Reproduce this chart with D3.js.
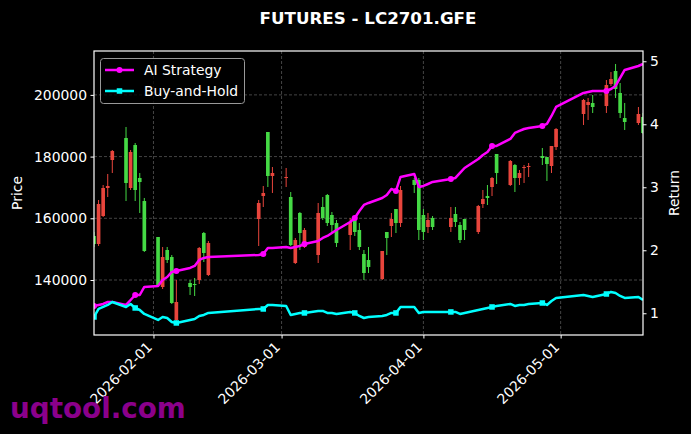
<!DOCTYPE html>
<html><head><meta charset="utf-8">
<script src="https://cdn.jsdelivr.net/npm/d3@7"></script>
<style>body{margin:0;background:#000;} svg{display:block;font-family:"DejaVu Sans",sans-serif;}</style>
</head><body><svg id="c" width="691" height="434"></svg>
<script>
const dates = ["2026-01-19","2026-01-20","2026-01-21","2026-01-22","2026-01-23","2026-01-26","2026-01-27","2026-01-28","2026-01-29","2026-01-30","2026-02-02","2026-02-03","2026-02-04","2026-02-05","2026-02-06","2026-02-09","2026-02-10","2026-02-11","2026-02-12","2026-02-13","2026-02-24","2026-02-25","2026-02-26","2026-02-27","2026-03-02","2026-03-03","2026-03-04","2026-03-05","2026-03-06","2026-03-09","2026-03-10","2026-03-11","2026-03-12","2026-03-13","2026-03-16","2026-03-17","2026-03-18","2026-03-19","2026-03-20","2026-03-23","2026-03-24","2026-03-25","2026-03-26","2026-03-27","2026-03-30","2026-03-31","2026-04-01","2026-04-02","2026-04-03","2026-04-07","2026-04-08","2026-04-09","2026-04-10","2026-04-13","2026-04-14","2026-04-15","2026-04-16","2026-04-17","2026-04-20","2026-04-21","2026-04-22","2026-04-23","2026-04-24","2026-04-27","2026-04-28","2026-04-29","2026-04-30","2026-05-06","2026-05-07","2026-05-08","2026-05-11","2026-05-12","2026-05-13","2026-05-14","2026-05-15","2026-05-18","2026-05-19"];
const openP = [154260,151670,160740,169820,178890,186020,169820,183750,173060,165600,153940,137730,149720,147450,127040,139030,138700,140000,155230,141620,159770,167220,187970,173710,173060,166900,145510,161720,150700,148100,163660,167550,161070,158470,154590,159450,156210,148430,146480,140320,155560,157500,163010,158470,172410,172410,161070,157180,160090,157180,161390,157830,159770,155560,164630,167220,170140,180840,170790,177270,173060,176300,176620,180190,179860,176950,183110,193800,196720,197370,196390,203520,207740,200610,192500,190880,192830];
const highP = [155560,165930,170790,174360,182130,189590,182130,184400,174680,166580,153940,150700,150700,148100,140000,140000,140650,150700,155560,152640,165930,170470,187970,176620,176300,168520,153610,162040,156850,164960,166900,167870,162040,159450,160090,160090,158470,149720,150700,149400,155560,161720,163010,170470,173060,173060,163010,161720,160740,163660,163660,158800,159770,164310,169170,170790,173380,180840,178890,177600,175650,177270,177920,182780,179860,183430,189260,198660,198990,199960,204820,207410,210010,203850,197370,196070,194130];
const lowP = [150700,151020,160420,166900,174680,165600,169170,165600,161720,149080,137730,137080,145510,132220,126700,135140,134810,138700,145830,141300,151020,163660,170140,168200,170140,151020,145190,149720,150370,145510,159450,157500,155230,150700,149720,154260,149720,140000,142270,140000,148100,153940,155230,157180,168200,152960,152960,155230,156210,155560,157180,151990,152960,154910,163340,164310,167220,171110,170470,168520,170790,171440,173380,177270,172090,174680,182130,190240,191860,194130,194130,202880,198990,192500,188620,190240,187320];
const closeP = [151670,164630,169820,170470,181810,171440,181490,169170,171760,149400,138380,147450,146480,132550,132870,137730,138380,150370,148750,151990,164960,168200,173710,174680,173380,151340,152960,155230,156210,161720,160090,158470,157830,151990,158800,155560,150700,142270,144210,149400,153610,159770,158470,169170,170790,156210,155560,159450,157180,160090,158800,152960,156210,163980,166250,166580,173060,174680,178570,173060,174680,176620,176950,179540,177600,183430,188940,198340,197690,196070,203200,205140,201900,194130,191210,193800,187640];
const aiReturn = [1.116,1.132,1.148,1.179,1.179,1.132,1.211,1.290,1.290,1.417,1.433,1.529,1.576,1.656,1.671,1.719,1.751,1.846,1.878,1.894,1.925,1.941,2.037,2.037,2.052,2.037,2.052,2.068,2.100,2.148,2.195,2.227,2.275,2.322,2.449,2.513,2.624,2.719,2.751,2.830,2.878,2.973,2.941,3.164,3.211,3.005,3.021,3.052,3.084,3.132,3.148,3.227,3.306,3.449,3.513,3.560,3.656,3.656,3.767,3.862,3.894,3.925,3.941,3.973,4.005,4.132,4.275,4.497,4.513,4.529,4.529,4.560,4.608,4.735,4.862,4.925,4.957];
const bhReturn = [0.941,1.068,1.100,1.132,1.179,1.100,1.148,1.084,1.052,0.989,0.894,0.941,0.925,0.862,0.846,0.894,0.910,0.957,0.973,1.005,1.068,1.068,1.132,1.132,1.116,0.973,0.989,1.005,1.005,1.037,1.037,1.005,1.005,0.989,1.021,1.005,0.957,0.925,0.941,0.957,0.973,1.005,1.005,1.100,1.100,1.005,1.021,1.021,1.021,1.021,1.021,0.989,1.005,1.052,1.068,1.084,1.100,1.116,1.148,1.116,1.132,1.132,1.148,1.163,1.132,1.195,1.243,1.290,1.275,1.259,1.306,1.338,1.322,1.275,1.243,1.259,1.211];
const priceTicks = [140000,160000,180000,200000];
const returnTicks = [1,2,3,4,5];
const dateTicks = ["2026-02-01","2026-03-01","2026-04-01","2026-05-01"];
const seriesNames = ["AI Strategy","Buy-and-Hold"];
const titleText = "FUTURES - LC2701.GFE";

const W=691,H=434, L=94, R=643, T=51, B=335;
const parse = d3.utcParse("%Y-%m-%d");
const dts = dates.map(parse);
const svg = d3.select("#c");
svg.append("rect").attr("width",W).attr("height",H).attr("fill","#000");

const x = d3.scaleUtc().domain([dts[0], dts[dts.length-1]]).range([L,R]);
const y = d3.scaleLinear().domain([122174,214222]).range([B,T]);
const y2 = d3.scaleLinear().domain([0.655,5.163]).range([B,T]);
const dayW = x(parse("2026-01-20"))-x(parse("2026-01-19"));

svg.append("clipPath").attr("id","clip").append("rect").attr("x",L).attr("y",T).attr("width",R-L).attr("height",B-T);

// grid
const g = svg.append("g");
g.selectAll(".gh").data(priceTicks).join("line").attr("x1",L).attr("x2",R).attr("y1",d=>y(d)).attr("y2",d=>y(d))
 .attr("stroke","#555").attr("stroke-width",0.8).attr("stroke-dasharray","3,2");
g.selectAll(".gv").data(dateTicks).join("line").attr("x1",d=>x(parse(d))).attr("x2",d=>x(parse(d))).attr("y1",T).attr("y2",B)
 .attr("stroke","#555").attr("stroke-width",0.8).attr("stroke-dasharray","3,2");

// candles
const up="#e8453c", dn="#45d945";
const cg = svg.append("g").attr("clip-path","url(#clip)");
const idx = d3.range(dates.length);
cg.selectAll(".wick").data(idx).join("line")
 .attr("x1",i=>x(dts[i])).attr("x2",i=>x(dts[i])).attr("y1",i=>y(highP[i])).attr("y2",i=>y(lowP[i]))
 .attr("stroke",i=>closeP[i]>=openP[i]?up:dn).attr("stroke-width",1);
const bw = dayW*0.8;
cg.selectAll(".body").data(idx).join("rect")
 .attr("x",i=>x(dts[i])-bw/2).attr("width",bw)
 .attr("y",i=>y(Math.max(openP[i],closeP[i])))
 .attr("height",i=>Math.max(1,Math.abs(y(openP[i])-y(closeP[i]))))
 .attr("fill",i=>closeP[i]>=openP[i]?up:dn);

// lines
const lg = svg.append("g").attr("clip-path","url(#clip)");
const lineAI = d3.line().x((d,i)=>x(dts[i])).y(d=>y2(d));
lg.append("path").attr("d",lineAI(aiReturn)).attr("fill","none").attr("stroke","#ff00ff").attr("stroke-width",2.5).attr("stroke-linejoin","round");
lg.append("path").attr("d",lineAI(bhReturn)).attr("fill","none").attr("stroke","#00ffff").attr("stroke-width",2.5).attr("stroke-linejoin","round");
const mk = idx.filter(i=>i%7===0);
lg.selectAll(".mai").data(mk).join("circle").attr("cx",i=>x(dts[i])).attr("cy",i=>y2(aiReturn[i])).attr("r",3).attr("fill","#ff00ff");
lg.selectAll(".mbh").data(mk).join("rect").attr("x",i=>x(dts[i])-2.75).attr("y",i=>y2(bhReturn[i])-2.75).attr("width",5.5).attr("height",5.5).attr("fill","#00ffff");

// frame
svg.append("rect").attr("x",L).attr("y",T).attr("width",R-L).attr("height",B-T).attr("fill","none").attr("stroke","#fff").attr("stroke-width",1.2);

// axes
const fs = "13.9px";
const ax = svg.append("g").attr("transform",`translate(${L},0)`).call(d3.axisLeft(y).tickValues(priceTicks).tickFormat(d3.format("d")).tickSize(3.5).tickPadding(3.5));
const ax2 = svg.append("g").attr("transform",`translate(${R},0)`).call(d3.axisRight(y2).tickValues(returnTicks).tickFormat(d3.format("d")).tickSize(3.5).tickPadding(3.5));
const ax3 = svg.append("g").attr("transform",`translate(0,${B})`).call(d3.axisBottom(x).tickValues(dateTicks.map(parse)).tickFormat(d3.utcFormat("%Y-%m-%d")).tickSize(3.5).tickPadding(3.5));
[ax,ax2,ax3].forEach(a=>{a.select(".domain").remove(); a.selectAll("line").attr("stroke","#fff"); a.selectAll("text").attr("fill","#fff").style("font-size",fs).style("font-family","DejaVu Sans");});
ax3.selectAll("text").attr("text-anchor","end").attr("dy",null).attr("y",null)
 .attr("transform","translate(-1,13) rotate(-45)");

// labels
svg.append("text").attr("x",W/2+22.5).attr("y",24).attr("text-anchor","middle").attr("fill","#fff").style("font-size","16.7px").style("font-weight","bold").text(titleText);
svg.append("text").attr("transform",`translate(22,${(T+B)/2}) rotate(-90)`).attr("text-anchor","middle").attr("fill","#fff").style("font-size",fs).text("Price");
svg.append("text").attr("transform",`translate(679,${(T+B)/2}) rotate(-90)`).attr("text-anchor","middle").attr("fill","#fff").style("font-size",fs).text("Return");

// legend
const leg = svg.append("g");
leg.append("rect").attr("x",100.5).attr("y",58.5).attr("width",144).attr("height",45).attr("rx",3).attr("fill","#000").attr("fill-opacity",0.8).attr("stroke","#999").attr("stroke-width",1);
const legC = ["#ff00ff","#00ffff"];
seriesNames.forEach((n,i)=>{
  const yy = 70 + i*21;
  leg.append("line").attr("x1",105).attr("x2",134).attr("y1",yy).attr("y2",yy).attr("stroke",legC[i]).attr("stroke-width",2.5);
  if(i===0) leg.append("circle").attr("cx",119.5).attr("cy",yy).attr("r",3).attr("fill",legC[i]);
  else leg.append("rect").attr("x",116.75).attr("y",yy-2.75).attr("width",5.5).attr("height",5.5).attr("fill",legC[i]);
  leg.append("text").attr("x",144).attr("y",yy+5).attr("fill","#fff").style("font-size",fs).text(n);
});

// watermark
svg.append("text").attr("x",10).attr("y",418).attr("fill","#8b008b").style("font-size","27.8px").style("font-weight","bold").text("uqtool.com");
</script></body></html>
